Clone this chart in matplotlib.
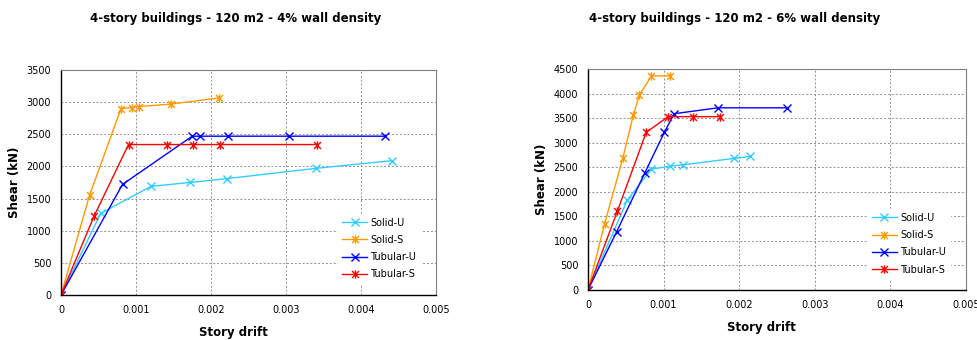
import matplotlib
matplotlib.use("Agg")
import matplotlib.pyplot as plt
from matplotlib.path import Path

# 4% wall density (drift, shear kN)
l_solid_u_x = [0, 0.00053, 0.0012, 0.00172, 0.00221, 0.0034, 0.00442]
l_solid_u_y = [0, 1270, 1690, 1750, 1810, 1970, 2090]
l_solid_s_x = [0, 0.00038, 0.0008, 0.00095, 0.00104, 0.00147, 0.0021]
l_solid_s_y = [0, 1550, 2900, 2915, 2930, 2970, 3065]
l_tub_u_x = [0, 0.00082, 0.00175, 0.00185, 0.00222, 0.00304, 0.00432]
l_tub_u_y = [0, 1720, 2470, 2470, 2470, 2470, 2470]
l_tub_s_x = [0, 0.00044, 0.0009, 0.00141, 0.00176, 0.00212, 0.00341]
l_tub_s_y = [0, 1225, 2340, 2340, 2340, 2340, 2340]

# 6% wall density
r_solid_u_x = [0, 0.00052, 0.00084, 0.00108, 0.00126, 0.00193, 0.00214]
r_solid_u_y = [0, 1830, 2460, 2520, 2550, 2680, 2720]
r_solid_s_x = [0, 0.00022, 0.00046, 0.0006, 0.00068, 0.00084, 0.00108]
r_solid_s_y = [0, 1350, 2680, 3560, 3970, 4360, 4360]
r_tub_u_x = [0, 0.00038, 0.00075, 0.00101, 0.00114, 0.00172, 0.00263]
r_tub_u_y = [0, 1190, 2380, 3210, 3590, 3710, 3710]
r_tub_s_x = [0, 0.00039, 0.00077, 0.00106, 0.00139, 0.00174]
r_tub_s_y = [0, 1610, 3210, 3530, 3530, 3530]

labels = ['Solid-U', 'Solid-S', 'Tubular-U', 'Tubular-S']
colors = ['#33CCFF', '#FF9900', '#0000FF', '#FF0000']

# excel style star marker: x with a vertical bar
star = Path([(-1, -1), (1, 1), (-1, 1), (1, -1), (0, -1.2), (0, 1.2)],
            [Path.MOVETO, Path.LINETO, Path.MOVETO, Path.LINETO, Path.MOVETO, Path.LINETO])
markers = ['x', star, 'x', star]


def draw(ax, series, ymax, title, title_x):
    for (x, y), lab, c, m in zip(series, labels, colors, markers):
        ax.plot(x, y, '-', color=c, marker=m, markersize=6, markeredgewidth=1.0,
                linewidth=1.0, label=lab)
    ax.set_xlim(0, 0.005)
    ax.set_ylim(0, ymax)
    ax.set_xticks([0, 0.001, 0.002, 0.003, 0.004, 0.005])
    ax.set_xticklabels(['0', '0.001', '0.002', '0.003', '0.004', '0.005'])
    ax.set_yticks(range(0, ymax + 1, 500))
    ax.tick_params(length=0, labelsize=7, pad=7)
    ax.grid(True, color='#909090', linestyle=(0, (2, 2)), linewidth=0.7)
    ax.set_axisbelow(True)
    for s in ['top', 'right']:
        ax.spines[s].set_color('#808080')
    for s in ['left', 'bottom']:
        ax.spines[s].set_color('black')
        ax.spines[s].set_linewidth(1.0)
    ax.set_xlabel('Story drift', fontsize=8.5, fontweight='bold')
    ax.set_ylabel('Shear (kN)', fontsize=8.5, fontweight='bold')
    ax.xaxis.set_label_coords(0.46, -0.14)
    leg = ax.legend(loc='lower right', bbox_to_anchor=(0.97, 0.03), fontsize=7,
                    frameon=True, fancybox=False, handlelength=2.6, labelspacing=0.75,
                    borderpad=0.4, handletextpad=0.3)
    leg.get_frame().set_edgecolor('white')
    leg.get_frame().set_facecolor('white')
    leg.get_frame().set_alpha(1)
    ax.figure.text(title_x, 0.945, title, ha='center', va='center',
                   fontsize=8.5, fontweight='bold')


fig = plt.figure(figsize=(9.78, 3.4), dpi=100)
ax1 = fig.add_axes([0.0624, 0.1324, 0.3834, 0.6618])
ax2 = fig.add_axes([0.6012, 0.147, 0.3865, 0.65])

draw(ax1, [(l_solid_u_x, l_solid_u_y), (l_solid_s_x, l_solid_s_y),
           (l_tub_u_x, l_tub_u_y), (l_tub_s_x, l_tub_s_y)],
     3500, '4-story buildings - 120 m2 - 4% wall density', 236 / 978)
draw(ax2, [(r_solid_u_x, r_solid_u_y), (r_solid_s_x, r_solid_s_y),
           (r_tub_u_x, r_tub_u_y), (r_tub_s_x, r_tub_s_y)],
     4500, '4-story buildings - 120 m2 - 6% wall density', 735 / 978)

fig.savefig('out.png', dpi=100)
